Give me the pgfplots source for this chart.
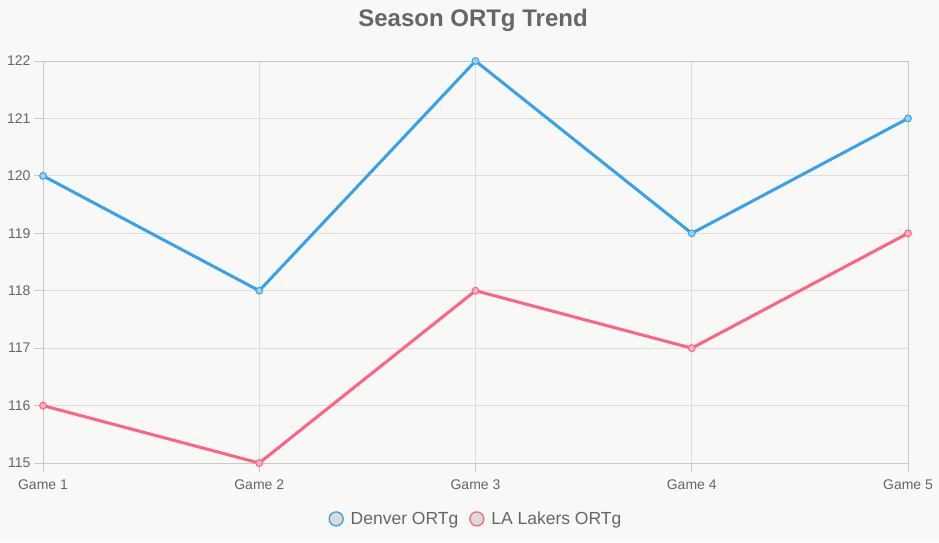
\documentclass[border=0pt]{standalone}
\usepackage{pgfplots}
\pgfplotsset{compat=1.18}
\usepackage{fontspec}
\setmainfont{Liberation Sans}
\definecolor{bg}{HTML}{F8F8F6}
\definecolor{txt}{HTML}{666666}
\definecolor{gridc}{HTML}{DDDDDD}
\definecolor{axc}{HTML}{C8C8C8}
\definecolor{blu}{HTML}{36A2EB}
\definecolor{pnk}{HTML}{FF6384}
\begin{document}
\begin{tikzpicture}[x=1pt,y=1pt]
\fill[bg] (-43,-79) rectangle (896,463);
\begin{axis}[
  scale only axis, width=865pt, height=402pt,
  xmin=0, xmax=4, ymin=115, ymax=122,
  xtick={0,1,2,3,4},
  xticklabels={Game 1,Game 2,Game 3,Game 4,Game 5},
  ytick={115,116,...,122},
  grid=major,
  grid style={gridc, line width=0.8pt},
  axis line style={gridc, line width=0.8pt},
  every outer x axis line/.append style={axc},
  every outer y axis line/.append style={axc},
  major tick style={axc, line width=0.8pt},
  major tick length=9pt, tick align=outside,
  xtick pos=bottom, ytick pos=left,
  ticklabel style={font=\fontsize{14}{16}\selectfont, text=txt},
  xticklabel style={yshift=-4pt},
  /pgf/number format/assume math mode=true,
  clip=false,
  legend columns=2,
  legend style={at={(0.5,-0.139)}, anchor=center, draw=none, fill=none,
    font=\fontsize{17.5}{20}\selectfont, text=txt,
    /tikz/every even column/.append style={column sep=8pt}},
  legend image code/.code={\path (-7pt,0) (11pt,0); \draw[#1, mark=none, line width=1.3pt, fill=black!14] (0,0) circle (7pt);},
]
\addplot[blu, line width=3pt, mark=*, mark size=3.4pt, mark options={fill=blu!50, line width=1pt}]
  coordinates {(0,120) (1,118) (2,122) (3,119) (4,121)};
\addlegendentry{Denver ORTg}
\addplot[pnk, line width=3pt, mark=*, mark size=3.4pt, mark options={fill=pnk!50, line width=1pt}]
  coordinates {(0,116) (1,115) (2,118) (3,117) (4,119)};
\addlegendentry{LA Lakers ORTg}
\end{axis}
\node[font=\bfseries\fontsize{24}{28}\selectfont, text=txt] at (430,443) {Season ORTg Trend};
\end{tikzpicture}
\end{document}
